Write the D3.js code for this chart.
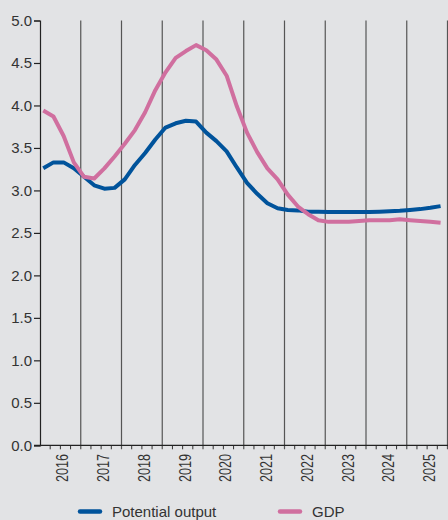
<!DOCTYPE html>
<html>
<head>
<meta charset="utf-8">
<script src="https://cdn.jsdelivr.net/npm/d3@7"></script>
<style>
html,body{margin:0;padding:0;background:#e2e3e5;}
svg{display:block;}
text{font-family:"Liberation Sans",Arial,sans-serif;fill:#333;}
</style>
</head>
<body>
<svg id="chart" width="448" height="520"></svg>
<script>
const years = [2016,2017,2018,2019,2020,2021,2022,2023,2024,2025];
const yTicks = [0,0.5,1,1.5,2,2.5,3,3.5,4,4.5,5];
const seriesNames = ["Potential output","GDP"];
const potential = [3.26,3.33,3.33,3.26,3.16,3.06,3.02,3.03,3.13,3.30,3.44,3.60,3.74,3.79,3.82,3.81,3.68,3.58,3.46,3.27,3.09,2.96,2.85,2.79,2.77,2.765,2.75,2.75,2.745,2.745,2.745,2.745,2.745,2.75,2.755,2.76,2.77,2.78,2.795,2.815];
const gdp = [3.94,3.87,3.64,3.33,3.16,3.14,3.26,3.40,3.55,3.71,3.92,4.18,4.39,4.56,4.64,4.71,4.65,4.54,4.35,3.99,3.68,3.45,3.26,3.13,2.95,2.81,2.72,2.65,2.63,2.63,2.63,2.64,2.65,2.65,2.65,2.66,2.65,2.64,2.63,2.62];
const colors = ["#00539b","#d06f9f"];

const svg = d3.select("#chart");
const x = d3.scaleLinear().domain([2016, 2026]).range([40, 447.5]);
const y = d3.scaleLinear().domain([0, 5]).range([445.3, 20.5]);
const qt = i => 2016 + i * 0.25 + 0.08;

// vertical year lines
const boundaries = years.slice(1).concat([2026]);
svg.append("g").selectAll("line").data(boundaries).join("line")
  .attr("x1", d => x(d)).attr("x2", d => x(d))
  .attr("y1", y(5)).attr("y2", y(0) + 4)
  .attr("stroke", "#555").attr("stroke-width", 1.2);

// quarterly minor ticks
const quarters = d3.range(0, 40).map(i => 2016 + i * 0.25).filter(d => d % 1 !== 0);
svg.append("g").selectAll("line").data(quarters).join("line")
  .attr("x1", d => x(d)).attr("x2", d => x(d))
  .attr("y1", y(0)).attr("y2", y(0) + 4)
  .attr("stroke", "#333").attr("stroke-width", 1);

// x axis line
svg.append("line").attr("x1", 34).attr("x2", 448).attr("y1", y(0)).attr("y2", y(0))
  .attr("stroke", "#222").attr("stroke-width", 1.2);

// y axis
const yAxis = svg.append("g").attr("transform", "translate(40,0)")
  .call(d3.axisLeft(y).tickValues(yTicks).tickFormat(d3.format(".1f")).tickSize(6).tickPadding(2));
yAxis.select(".domain").attr("stroke", "#222").attr("stroke-width", 1.2);
yAxis.selectAll(".tick line").attr("stroke", "#222").attr("stroke-width", 1.2);
yAxis.selectAll(".tick text").attr("font-size", 15).attr("fill", "#333")
  .style("font-family", '"Liberation Sans",Arial,sans-serif');

// year labels
svg.append("g").selectAll("text").data(years).join("text")
  .attr("transform", d => `translate(${x(d + 0.5) + 8},454) rotate(-90)`)
  .attr("text-anchor", "end")
  .attr("font-size", 16)
  .attr("textLength", 28).attr("lengthAdjust", "spacingAndGlyphs")
  .text(d => d);

// lines
const line = d3.line().x((d, i) => x(qt(i))).y(d => y(d));
[potential, gdp].forEach((s, k) => {
  svg.append("path").datum(s).attr("d", line)
    .attr("fill", "none").attr("stroke", colors[k]).attr("stroke-width", 4)
    .attr("stroke-linejoin", "round");
});

// legend
const legX = [80, 280];
seriesNames.forEach((n, k) => {
  svg.append("line").attr("x1", legX[k]).attr("x2", legX[k] + 20)
    .attr("y1", 511.5).attr("y2", 511.5)
    .attr("stroke", colors[k]).attr("stroke-width", 4.5).attr("stroke-linecap", "round");
  svg.append("text").attr("x", legX[k] + 32).attr("y", 516.5).attr("font-size", 15).text(n);
});
</script>
</body>
</html>
